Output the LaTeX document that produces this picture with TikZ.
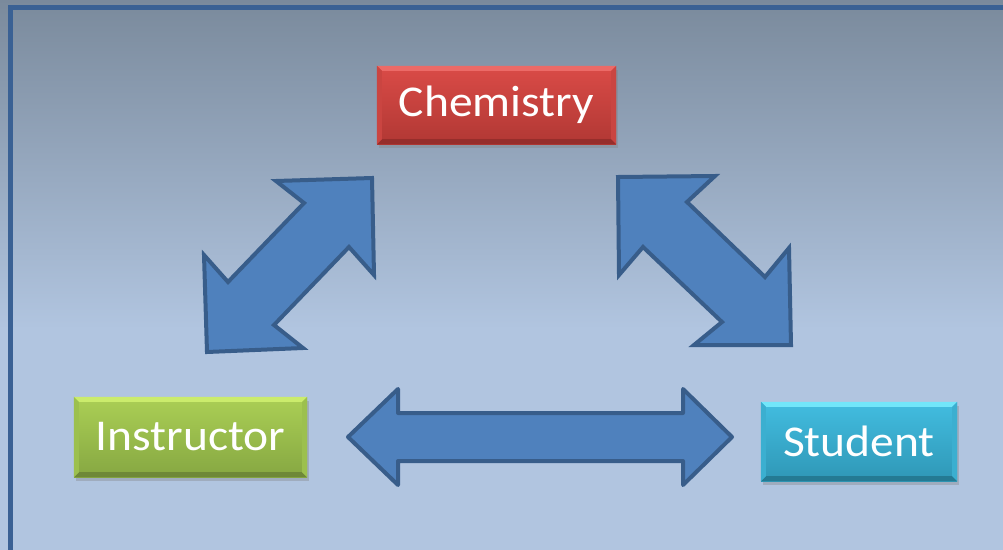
\documentclass[tikz,border=0pt]{standalone}
\usepackage{fontspec}
\setmainfont{Carlito}[FakeStretch=1.08]
\usetikzlibrary{shadows}
\definecolor{bgtop}{HTML}{7A8A9C}
\definecolor{bgbot}{HTML}{B1C5E0}
\definecolor{framec}{HTML}{3A6194}
\definecolor{arrowfill}{HTML}{4F81BD}
\definecolor{arrowline}{HTML}{385D8A}
\definecolor{redtop}{HTML}{DA4B47}
\definecolor{redbot}{HTML}{B13834}
\definecolor{redhi}{HTML}{EC6A67}
\definecolor{redlo}{HTML}{962E2B}
\definecolor{redside}{HTML}{CA4541}
\definecolor{grntop}{HTML}{ABCF55}
\definecolor{grnbot}{HTML}{86A742}
\definecolor{grnhi}{HTML}{CBEC6C}
\definecolor{grnlo}{HTML}{6E8838}
\definecolor{grnside}{HTML}{9CC04E}
\definecolor{cyntop}{HTML}{42BDE0}
\definecolor{cynbot}{HTML}{2F97B6}
\definecolor{cynhi}{HTML}{72E6FA}
\definecolor{cynlo}{HTML}{247A93}
\definecolor{cynside}{HTML}{3BAFD0}
\pgfdeclareverticalshading{bgshade}{100bp}{color(0bp)=(bgbot); color(45bp)=(bgbot); color(75bp)=(bgtop); color(100bp)=(bgtop)}
\newcommand\bevelbox[4]{%
  \fill[#2] (#1.north west) -- (#1.north east) -- ([shift={(-5,5)}]#1.north east) -- ([shift={(5,5)}]#1.north west) -- cycle;
  \fill[#4] (#1.south west) -- (#1.south east) -- ([shift={(-5,-5)}]#1.south east) -- ([shift={(5,-5)}]#1.south west) -- cycle;
  \fill[#3] (#1.north west) -- ([shift={(5,5)}]#1.north west) -- ([shift={(5,-5)}]#1.south west) -- (#1.south west) -- cycle;
  \fill[#3] (#1.north east) -- ([shift={(-5,5)}]#1.north east) -- ([shift={(-5,-5)}]#1.south east) -- (#1.south east) -- cycle;
}
\tikzset{
  lbox/.style={rectangle, inner sep=0pt, text=white, font=\fontsize{44}{44}\selectfont,
    drop shadow={shadow xshift=2pt, shadow yshift=-4pt, opacity=0.35}},
  labeltext/.style={text=white, font=\fontsize{44}{44}\selectfont},
  blockarrow/.style={fill=arrowfill, draw=arrowline, line width=4pt},
}
\begin{document}
\begin{tikzpicture}[x=1pt,y=-1pt]
\useasboundingbox (0,0) rectangle (1003,549);
\clip (0,0) rectangle (1003,549);
\shade[shading=bgshade] (0,0) rectangle (1003,549);
\draw[framec, line width=4.5pt] (10.5,7.5) rectangle (1020,570);

% boxes
\node[lbox, minimum width=239pt, minimum height=78pt, top color=redtop, bottom color=redbot] (chem) at (496.5,105) {};
\bevelbox{chem}{redhi}{redside}{redlo}
\node[labeltext] (chemt) at (chem.center) {Chemistry};

\node[lbox, minimum width=233pt, minimum height=80pt, top color=grntop, bottom color=grnbot] (inst) at (190.5,437) {};
\bevelbox{inst}{grnhi}{grnside}{grnlo}
\node[labeltext] (instt) at (inst.center) {Instructor};

\node[lbox, minimum width=196pt, minimum height=79pt, top color=cyntop, bottom color=cynbot] (stud) at (859,441.5) {};
\bevelbox{stud}{cynhi}{cynside}{cynlo}
\node[labeltext] (studt) at (stud.center) {Student};

% block arrows
\draw[blockarrow, line join=miter] (372,178) -- (374,275) -- (349,247) -- (274,325) -- (303,348) -- (207,352) -- (204,255) -- (228,282) -- (304,203) -- (276,181) -- cycle;
\draw[blockarrow, line join=miter] (618,177) -- (715,176) -- (687,202) -- (765,277) -- (789,248) -- (791,345) -- (694,345) -- (722,322) -- (643,247) -- (619,275) -- cycle;
\draw[blockarrow, line join=round] (348,437) -- (398,389) -- (398,413) -- (683,413) -- (683,389) -- (732,437) -- (683,485) -- (683,461) -- (398,461) -- (398,485) -- cycle;
\end{tikzpicture}
\end{document}
